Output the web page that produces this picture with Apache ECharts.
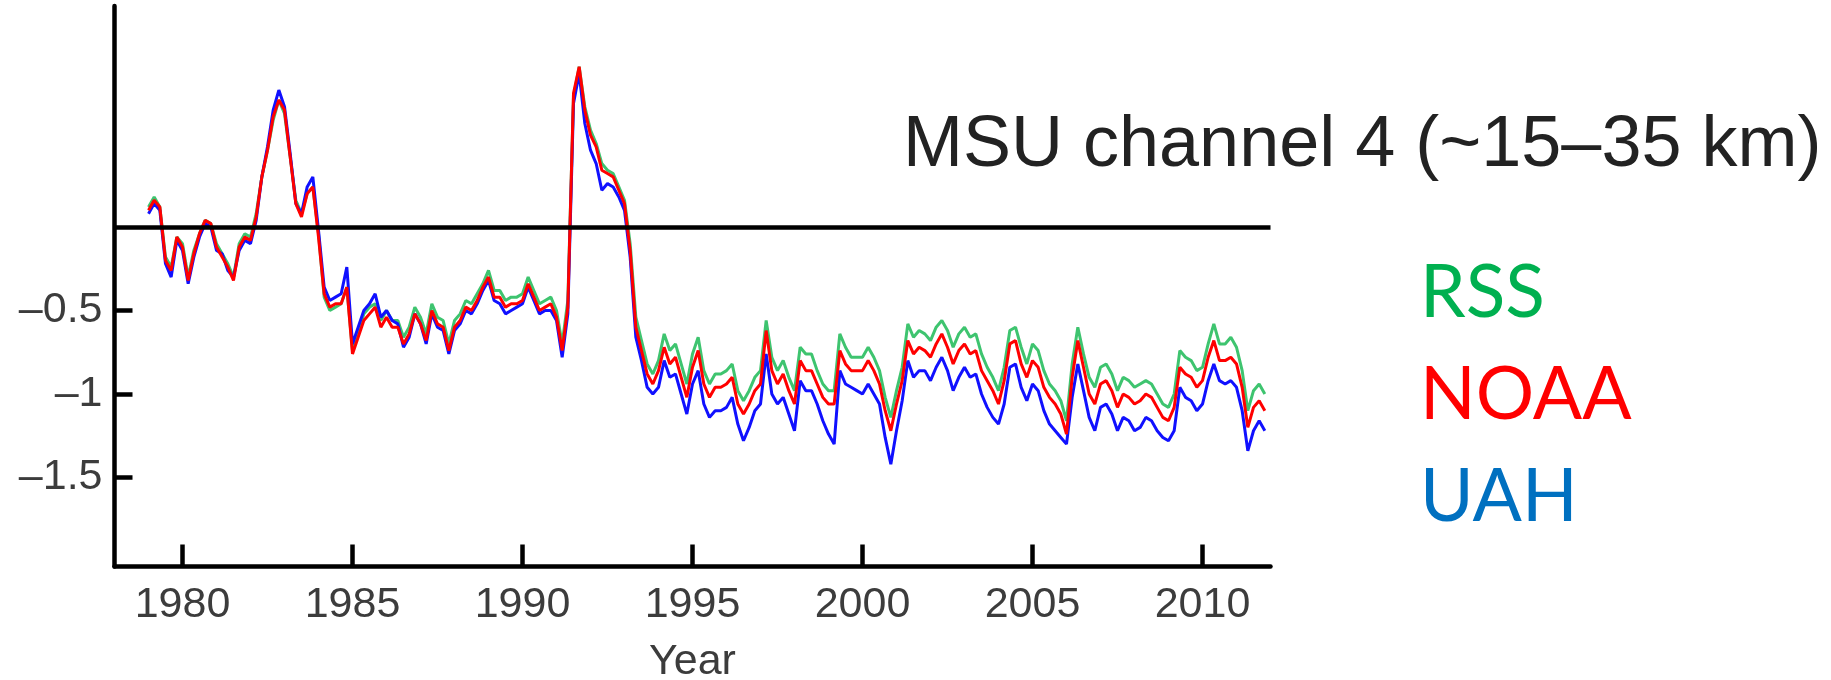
<!DOCTYPE html>
<html>
<head>
<meta charset="utf-8">
<script src="https://cdn.jsdelivr.net/npm/echarts@6/dist/echarts.min.js"></script>
<style>
html,body{margin:0;padding:0;background:#fff;}
#chart{width:1831px;height:680px;}
</style>
</head>
<body>
<div id="chart"></div>
<script>
// Bimonthly samples, 1979.0 to 2011.83
const START_YEAR = 1979;
const STEP = 1 / 6;

const titleText = 'MSU channel 4 (~15\u201335 km)';
const xName = 'Year';
const xTicks = [1980, 1985, 1990, 1995, 2000, 2005, 2010];
const yTicks = [-1.5, -1, -0.5];
const seriesNames = ['RSS', 'NOAA', 'UAH'];

const noaa = [
  0.10, 0.16, 0.12, -0.20, -0.26, -0.06,
  -0.12, -0.32, -0.16, -0.04, 0.04, 0.02,
  -0.12, -0.18, -0.24, -0.32, -0.12, -0.06,
  -0.08, 0.06, 0.30, 0.46, 0.66, 0.76,
  0.70, 0.42, 0.14, 0.06, 0.20, 0.24,
  -0.06, -0.40, -0.48, -0.46, -0.46, -0.36,
  -0.76, -0.66, -0.56, -0.52, -0.48, -0.60,
  -0.54, -0.60, -0.60, -0.70, -0.64, -0.52,
  -0.58, -0.68, -0.50, -0.58, -0.60, -0.74,
  -0.60, -0.56, -0.48, -0.50, -0.44, -0.36,
  -0.30, -0.42, -0.42, -0.48, -0.46, -0.46,
  -0.44, -0.34, -0.42, -0.50, -0.48, -0.46,
  -0.54, -0.74, -0.48, 0.80, 0.96, 0.70,
  0.55, 0.48, 0.34, 0.32, 0.30, 0.22,
  0.14, -0.14, -0.60, -0.74, -0.88, -0.94,
  -0.86, -0.72, -0.82, -0.78, -0.90, -1.02,
  -0.84, -0.74, -0.94, -1.02, -0.96, -0.96,
  -0.94, -0.90, -1.06, -1.12, -1.06, -0.98,
  -0.94, -0.62, -0.86, -0.94, -0.88, -0.98,
  -1.06, -0.80, -0.86, -0.86, -0.94, -1.02,
  -1.06, -1.06, -0.74, -0.82, -0.86, -0.86,
  -0.86, -0.80, -0.86, -0.94, -1.10, -1.22,
  -1.06, -0.92, -0.68, -0.76, -0.72, -0.74,
  -0.78, -0.70, -0.64, -0.72, -0.82, -0.74,
  -0.70, -0.76, -0.74, -0.86, -0.92, -0.98,
  -1.06, -0.92, -0.70, -0.68, -0.82, -0.90,
  -0.80, -0.84, -0.96, -1.02, -1.06, -1.12,
  -1.24, -0.90, -0.68, -0.84, -1.00, -1.06,
  -0.94, -0.92, -0.98, -1.08, -1.00, -1.02,
  -1.06, -1.04, -1.00, -1.02, -1.08, -1.14,
  -1.16, -1.08, -0.84, -0.88, -0.90, -0.96,
  -0.92, -0.78, -0.68, -0.80, -0.80, -0.78,
  -0.82, -0.96, -1.20, -1.08, -1.04, -1.10
];

const uah = [
  0.08, 0.14, 0.10, -0.22, -0.30, -0.08,
  -0.14, -0.34, -0.18, -0.06, 0.02, 0.00,
  -0.14, -0.16, -0.26, -0.30, -0.14, -0.08,
  -0.10, 0.04, 0.30, 0.48, 0.70, 0.82,
  0.72, 0.44, 0.14, 0.08, 0.24, 0.30,
  -0.02, -0.36, -0.44, -0.42, -0.40, -0.24,
  -0.70, -0.60, -0.50, -0.46, -0.40, -0.54,
  -0.50, -0.56, -0.58, -0.72, -0.66, -0.52,
  -0.58, -0.70, -0.52, -0.60, -0.62, -0.76,
  -0.62, -0.58, -0.50, -0.52, -0.46, -0.38,
  -0.32, -0.44, -0.46, -0.52, -0.50, -0.48,
  -0.46, -0.36, -0.44, -0.52, -0.50, -0.50,
  -0.56, -0.78, -0.52, 0.74, 0.92, 0.62,
  0.46, 0.38, 0.22, 0.26, 0.24, 0.18,
  0.10, -0.18, -0.66, -0.80, -0.96, -1.00,
  -0.96, -0.80, -0.90, -0.88, -1.00, -1.12,
  -0.94, -0.86, -1.06, -1.14, -1.10, -1.10,
  -1.08, -1.02, -1.18, -1.28, -1.20, -1.10,
  -1.06, -0.76, -1.00, -1.06, -1.02, -1.12,
  -1.22, -0.92, -0.98, -0.98, -1.06, -1.16,
  -1.24, -1.30, -0.86, -0.94, -0.96, -0.98,
  -1.00, -0.94, -1.00, -1.06, -1.26, -1.42,
  -1.22, -1.04, -0.80, -0.90, -0.86, -0.86,
  -0.92, -0.84, -0.78, -0.86, -0.98, -0.90,
  -0.84, -0.90, -0.88, -1.00, -1.08, -1.14,
  -1.18, -1.06, -0.84, -0.82, -0.96, -1.04,
  -0.94, -0.98, -1.10, -1.18, -1.22, -1.26,
  -1.30, -1.02, -0.82, -0.98, -1.14, -1.22,
  -1.08, -1.06, -1.12, -1.22, -1.14, -1.16,
  -1.22, -1.20, -1.14, -1.16, -1.22, -1.26,
  -1.28, -1.22, -0.96, -1.02, -1.04, -1.10,
  -1.06, -0.92, -0.82, -0.92, -0.94, -0.92,
  -0.96, -1.10, -1.34, -1.22, -1.16, -1.22
];

const rss = [
  0.12, 0.18, 0.12, -0.18, -0.24, -0.06,
  -0.10, -0.30, -0.14, -0.04, 0.04, 0.02,
  -0.10, -0.16, -0.22, -0.30, -0.10, -0.04,
  -0.06, 0.08, 0.30, 0.46, 0.64, 0.76,
  0.68, 0.42, 0.16, 0.08, 0.20, 0.24,
  -0.04, -0.42, -0.50, -0.48, -0.46, -0.36,
  -0.74, -0.64, -0.52, -0.48, -0.46, -0.56,
  -0.50, -0.56, -0.56, -0.66, -0.60, -0.48,
  -0.54, -0.64, -0.46, -0.54, -0.56, -0.70,
  -0.56, -0.52, -0.44, -0.46, -0.40, -0.34,
  -0.26, -0.38, -0.38, -0.44, -0.42, -0.42,
  -0.40, -0.30, -0.38, -0.46, -0.44, -0.42,
  -0.50, -0.70, -0.44, 0.78, 0.96, 0.72,
  0.58, 0.50, 0.38, 0.34, 0.32, 0.24,
  0.16, -0.10, -0.54, -0.68, -0.82, -0.88,
  -0.80, -0.64, -0.74, -0.70, -0.82, -0.94,
  -0.76, -0.66, -0.86, -0.94, -0.88, -0.88,
  -0.86, -0.82, -0.98, -1.04, -0.98, -0.90,
  -0.86, -0.56, -0.78, -0.86, -0.80, -0.90,
  -0.98, -0.72, -0.76, -0.76, -0.86, -0.94,
  -0.98, -0.98, -0.64, -0.72, -0.78, -0.78,
  -0.78, -0.72, -0.78, -0.86, -1.02, -1.14,
  -0.98, -0.84, -0.58, -0.66, -0.62, -0.64,
  -0.68, -0.60, -0.56, -0.62, -0.72, -0.64,
  -0.60, -0.66, -0.64, -0.76, -0.84, -0.90,
  -0.98, -0.84, -0.62, -0.60, -0.72, -0.82,
  -0.70, -0.74, -0.86, -0.94, -0.98, -1.04,
  -1.16, -0.82, -0.60, -0.76, -0.90, -0.96,
  -0.84, -0.82, -0.88, -0.98, -0.90, -0.92,
  -0.96, -0.94, -0.92, -0.94, -1.00, -1.06,
  -1.08, -1.00, -0.74, -0.78, -0.80, -0.86,
  -0.84, -0.70, -0.58, -0.70, -0.70, -0.66,
  -0.72, -0.86, -1.10, -0.98, -0.94, -1.00
];

function pairs(values) {
  return values.map(function (v, i) { return [START_YEAR + i * STEP, v]; });
}

const colors = { RSS: '#3ec46f', NOAA: '#ff0000', UAH: '#1010ff' };
const textColors = { RSS: '#00b050', NOAA: '#ff0000', UAH: '#0070c0' };
const valuesByName = { RSS: rss, NOAA: noaa, UAH: uah };

const chart = echarts.init(document.getElementById('chart'), null, { renderer: 'canvas' });

const drawOrder = ['RSS', 'UAH', 'NOAA'];
const series = drawOrder.map(function (name, k) {
  return {
    name: name,
    type: 'line',
    data: pairs(valuesByName[name]),
    showSymbol: false,
    symbol: 'none',
    z: 2 + k,
    lineStyle: { color: colors[name], width: 3 },
    animation: false,
    silent: true
  };
});
series.push({
  type: 'line',
  data: [],
  z: 10,
  silent: true,
  markLine: {
    symbol: 'none',
    silent: true,
    label: { show: false },
    lineStyle: { color: '#000', width: 4.5, type: 'solid' },
    data: [{ yAxis: 0 }],
    animation: false
  }
});

const legendGraphics = seriesNames.map(function (name, i) {
  return {
    type: 'text',
    x: 1420,
    y: 257 + i * 102,
    z: 20,
    style: {
      text: name,
      font: '73px Lato, "Open Sans", sans-serif',
      fill: textColors[name],
      align: 'left',
      verticalAlign: 'top'
    }
  };
});

const labelFont = '"Liberation Sans", Arial, sans-serif';

const option = {
  backgroundColor: '#ffffff',
  animation: false,
  grid: { left: 114.5, right: 560.5, top: 6, bottom: 113.5, containLabel: false, outerBoundsMode: 'none' },
  xAxis: {
    type: 'value',
    min: 1978,
    max: 2012,
    name: xName,
    nameLocation: 'middle',
    nameGap: 74,
    nameTextStyle: { fontSize: 43, color: '#3c3c3c', fontFamily: labelFont },
    axisLine: { show: true, onZero: false, lineStyle: { color: '#000', width: 4.5 } },
    axisTick: { show: true, inside: true, length: 22, customValues: xTicks, lineStyle: { color: '#000', width: 4.5 } },
    axisLabel: {
      show: true, customValues: xTicks, margin: 17, fontSize: 43, color: '#3c3c3c', fontFamily: labelFont,
      formatter: function (v) { return String(Math.round(v)); }
    },
    splitLine: { show: false }
  },
  yAxis: {
    type: 'value',
    min: -2.0329,
    max: 1.3234,
    axisLine: { show: true, onZero: false, lineStyle: { color: '#000', width: 4.5 } },
    axisTick: { show: true, inside: true, length: 18, customValues: yTicks, lineStyle: { color: '#000', width: 4.5 } },
    axisLabel: {
      show: true, customValues: yTicks, margin: 12, fontSize: 43, color: '#3c3c3c',
      fontFamily: labelFont,
      formatter: function (v) { return String(v).replace('-', '\u2013'); }
    },
    splitLine: { show: false }
  },
  graphic: [
    {
      type: 'text',
      x: 903,
      y: 110,
      z: 20,
      style: {
        text: titleText,
        font: '72px "Liberation Sans", Arial, sans-serif',
        fill: '#222222',
        align: 'left',
        verticalAlign: 'top'
      }
    }
  ].concat(legendGraphics),
  series: series
};

chart.setOption(option);
</script>
</body>
</html>
